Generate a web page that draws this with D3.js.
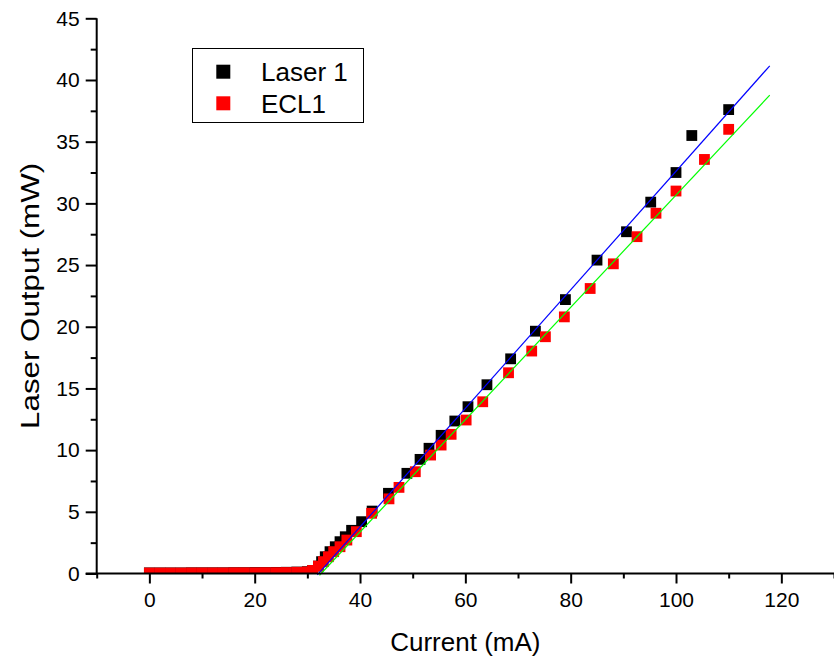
<!DOCTYPE html>
<html>
<head>
<meta charset="utf-8">
<script src="https://cdn.jsdelivr.net/npm/d3@7"></script>
<style>
  html, body { margin: 0; padding: 0; background: #fff; }
  svg { display: block; font-family: "Liberation Sans", Arial, sans-serif; }
</style>
</head>
<body>
<svg id="chart" width="834" height="664"></svg>
<script>
// Laser 1: drive current (mA) and optical output (mW)
const laserCurrent = [0, 2, 4, 6, 8, 10, 12, 14, 16, 18, 20, 22, 24, 26, 28, 30, 31,
  32.1, 32.7, 33.4, 34.3, 35.3, 36.2, 37.2, 38.4, 40.3, 42.3, 45.4, 48.9, 51.4, 53.1,
  55.4, 58.0, 60.5, 64.1, 68.6, 73.3, 79.0, 85.0, 90.6, 95.2, 100.0, 103.0, 110.0];
const laserPower = [0.05, 0.05, 0.05, 0.05, 0.06, 0.06, 0.06, 0.06, 0.07, 0.07, 0.08, 0.08, 0.09, 0.1, 0.12, 0.15, 0.25,
  0.6, 0.96, 1.36, 1.77, 2.17, 2.58, 2.98, 3.5, 4.2, 5.06, 6.5, 8.12, 9.25, 10.15,
  11.2, 12.36, 13.52, 15.3, 17.4, 19.64, 22.2, 25.4, 27.7, 30.1, 32.5, 35.5, 37.6];

// ECL1: drive current (mA) and optical output (mW)
const eclCurrent = [0, 2, 4, 6, 8, 10, 12, 14, 16, 18, 20, 22, 24, 26, 28, 30, 31,
  32.1, 33.05, 34.0, 35.0, 36.2, 37.5, 39.3, 42.2, 45.5, 47.4, 50.5, 53.4, 55.4,
  57.3, 60.15, 63.3, 68.2, 72.6, 75.2, 78.8, 83.7, 88.1, 92.6, 96.2, 100.0, 105.4, 110.0];
const eclPower = [0.04, 0.04, 0.04, 0.04, 0.05, 0.05, 0.05, 0.05, 0.06, 0.06, 0.06, 0.07, 0.07, 0.08, 0.1, 0.13, 0.25,
  0.6, 0.96, 1.36, 1.77, 2.17, 2.71, 3.39, 4.88, 6.05, 6.98, 8.25, 9.6, 10.41,
  11.28, 12.44, 13.92, 16.27, 18.03, 19.19, 20.8, 23.1, 25.1, 27.3, 29.2, 31.0, 33.56, 36.0];

// Linear fits above threshold: slope (mW/mA), intercept (mW), fitted current range (mA)
const laserFit = { slope: 0.4804, intercept: -15.44, from: 31.9, to: 117.8 };
const eclFit = { slope: 0.4551, intercept: -14.84, from: 32.3, to: 117.8 };

const xMajorTicks = [0, 20, 40, 60, 80, 100, 120];
const xMinorTicks = [-10, 10, 30, 50, 70, 90, 110, 130];
const yMajorTicks = [0, 5, 10, 15, 20, 25, 30, 35, 40, 45];
const yMinorTicks = [2.5, 7.5, 12.5, 17.5, 22.5, 27.5, 32.5, 37.5, 42.5];

const legendLabels = ["Laser 1", "ECL1"];
const seriesColors = ["#000000", "#ff0000"];
const fitColors = ["#0000ff", "#00ff00"];

const svg = d3.select("#chart");
const x = d3.scaleLinear().domain([-10, 130]).range([96.7, 834]);
const y = d3.scaleLinear().domain([0, 45]).range([573.5, 18.3]);

svg.append("rect").attr("width", 834).attr("height", 664).attr("fill", "#fff");

// plot clip: markers are cut at the axes
svg.append("clipPath").attr("id", "plotClip")
  .append("rect")
  .attr("x", x(-10)).attr("y", y(45))
  .attr("width", x(130) - x(-10)).attr("height", y(0) - y(45));

const plot = svg.append("g").attr("clip-path", "url(#plotClip)");

const markerSize = 10.8;
const series = [
  { xs: laserCurrent, ys: laserPower, color: seriesColors[0] },
  { xs: eclCurrent, ys: eclPower, color: seriesColors[1] }
];
series.forEach(s => {
  const pts = s.xs.map((c, i) => [c, s.ys[i]]);
  plot.append("g").selectAll("rect").data(pts).join("rect")
    .attr("x", d => x(d[0]) - markerSize / 2)
    .attr("y", d => y(d[1]) - markerSize / 2)
    .attr("width", markerSize).attr("height", markerSize)
    .attr("fill", s.color);
});

// fitted lines
const line = d3.line().x(d => x(d[0])).y(d => y(d[1]));
[laserFit, eclFit].forEach((f, i) => {
  const pts = [f.from, f.to].map(c => [c, f.slope * c + f.intercept]);
  svg.append("path").attr("d", line(pts))
    .attr("fill", "none").attr("stroke", fitColors[i]).attr("stroke-width", 1.2);
});

// axes
const axisStroke = 2;
const xAxisG = svg.append("g").attr("transform", `translate(0,${y(0)})`);
xAxisG.call(d3.axisBottom(x).tickValues(xMajorTicks).tickSize(10).tickPadding(9)
  .tickFormat(d3.format("d")));
const xMinorG = svg.append("g").attr("transform", `translate(0,${y(0)})`);
xMinorG.call(d3.axisBottom(x).tickValues(xMinorTicks).tickSize(5).tickFormat(""));

const yAxisG = svg.append("g").attr("transform", `translate(${x(-10)},0)`);
yAxisG.call(d3.axisLeft(y).tickValues(yMajorTicks).tickSize(11).tickPadding(6)
  .tickFormat(d3.format("d")));
const yMinorG = svg.append("g").attr("transform", `translate(${x(-10)},0)`);
yMinorG.call(d3.axisLeft(y).tickValues(yMinorTicks).tickSize(6).tickFormat(""));

[xAxisG, xMinorG, yAxisG, yMinorG].forEach(g => {
  g.select(".domain").remove();
  g.selectAll(".tick line").attr("stroke", "#000").attr("stroke-width", axisStroke);
  g.selectAll(".tick text").attr("fill", "#000").attr("font-size", 21)
    .attr("font-family", "'Liberation Sans', Arial, sans-serif");
});

svg.append("line")
  .attr("x1", x(-10) - 11).attr("x2", x(130))
  .attr("y1", y(0)).attr("y2", y(0))
  .attr("stroke", "#000").attr("stroke-width", axisStroke);
svg.append("line")
  .attr("x1", x(-10)).attr("x2", x(-10))
  .attr("y1", y(45)).attr("y2", y(0))
  .attr("stroke", "#000").attr("stroke-width", axisStroke);

// axis titles
svg.append("text")
  .attr("x", (x(-10) + x(130)) / 2).attr("y", 651)
  .attr("text-anchor", "middle").attr("font-size", 26).attr("fill", "#000")
  .text("Current (mA)");
svg.append("text")
  .attr("transform", `translate(39,${(y(0) + y(45)) / 2}) rotate(-90)`)
  .attr("text-anchor", "middle").attr("font-size", 26).attr("fill", "#000")
  .attr("textLength", 266).attr("lengthAdjust", "spacingAndGlyphs")
  .text("Laser Output (mW)");

// legend
const legend = svg.append("g");
legend.append("rect")
  .attr("x", 192.5).attr("y", 48.5).attr("width", 171).attr("height", 74)
  .attr("fill", "#fff").attr("stroke", "#000").attr("stroke-width", 1);
legendLabels.forEach((lab, i) => {
  const cy = 71.7 + i * 31.6;
  legend.append("rect")
    .attr("x", 223.3 - 7).attr("y", cy - 7).attr("width", 14).attr("height", 14)
    .attr("fill", seriesColors[i]);
  legend.append("text")
    .attr("x", 261).attr("y", cy + 9.5)
    .attr("font-size", 26).attr("fill", "#000").text(lab);
});
</script>
</body>
</html>
